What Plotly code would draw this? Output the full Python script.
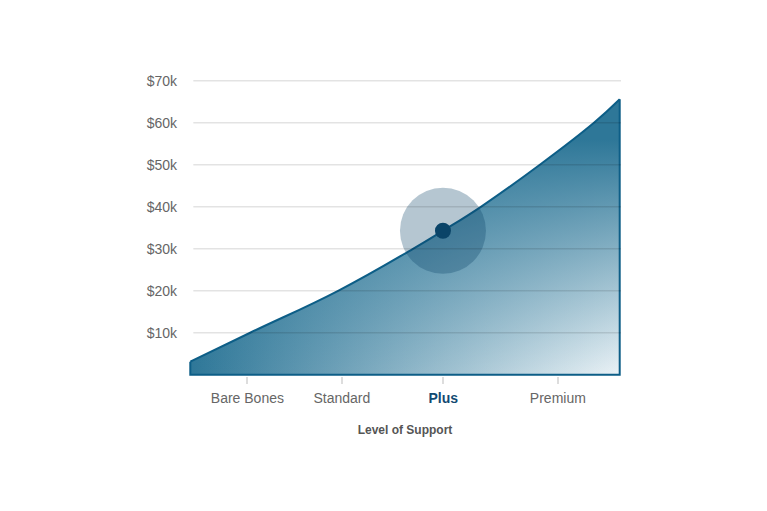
import plotly.graph_objects as go

# ---- data ----
curve_x = [0, 13.95, 34.42, 51.86, 58.84, 67.67, 81.40, 94.0, 100]
curve_y = [3.1, 10, 20, 30, 34.3, 40, 50, 60, 65.6]

tick_pos = [13.3, 35.3, 58.9, 85.6]
tick_labels = ["Bare Bones", "Standard", "Plus", "Premium"]
highlight_index = 2           # "Plus"
highlight_x = 58.84
highlight_y = 34.3

y_ticks = [10, 20, 30, 40, 50, 60, 70]
y_tick_labels = ["$10k", "$20k", "$30k", "$40k", "$50k", "$60k", "$70k"]

DARK = "#2e7798"
LIGHT = "#eaf2f6"
EDGE = "#0d5e87"
NAVY = "#0a4468"
SMOOTH = 1.2

fig = go.Figure()

# base fill: horizontal gradient
fig.add_trace(go.Scatter(
    x=curve_x, y=curve_y, mode="lines", fill="tozeroy",
    line=dict(width=0, shape="spline", smoothing=SMOOTH),
    fillgradient=dict(type="horizontal", start=0, stop=100,
                      colorscale=[[0, DARK], [1, LIGHT]]),
    hoverinfo="skip", showlegend=False))

# overlay: vertical darkening gradient
fig.add_trace(go.Scatter(
    x=curve_x, y=curve_y, mode="lines", fill="tozeroy",
    line=dict(width=0, shape="spline", smoothing=SMOOTH),
    fillgradient=dict(type="vertical", start=0, stop=56,
                      colorscale=[[0, "rgba(46,119,152,0)"],
                                  [1, "rgba(46,119,152,1)"]]),
    hoverinfo="skip", showlegend=False))

# outline: curve
fig.add_trace(go.Scatter(
    x=curve_x, y=curve_y, mode="lines",
    line=dict(width=2, color=EDGE, shape="spline", smoothing=SMOOTH),
    hoverinfo="skip", showlegend=False))

# outline: straight edges (right, bottom, left)
fig.add_trace(go.Scatter(
    x=[curve_x[-1], curve_x[-1], curve_x[0], curve_x[0]],
    y=[curve_y[-1], 0, 0, curve_y[0]], mode="lines",
    line=dict(width=2, color=EDGE),
    hoverinfo="skip", showlegend=False))

# halo
fig.add_trace(go.Scatter(
    x=[highlight_x], y=[highlight_y], mode="markers",
    marker=dict(size=86, color="rgba(11,66,102,0.3)", line=dict(width=0)),
    hoverinfo="skip", showlegend=False))

# dot
fig.add_trace(go.Scatter(
    x=[highlight_x], y=[highlight_y], mode="markers",
    marker=dict(size=16, color=NAVY, line=dict(width=0)),
    hoverinfo="skip", showlegend=False))

# grid lines drawn above the area
for v in y_ticks:
    fig.add_shape(type="line", xref="x domain", yref="y",
                  x0=0.01, x1=1, y0=v, y1=v, layer="above",
                  line=dict(color="rgba(0,0,0,0.11)", width=1.5))

ticktext = []
for i, t in enumerate(tick_labels):
    if i == highlight_index:
        ticktext.append("<span style='color:#124a72'><b>%s</b></span>" % t)
    else:
        ticktext.append(t)

fig.update_layout(
    width=767, height=511,
    margin=dict(l=181, r=154, t=72, b=143),
    paper_bgcolor="white", plot_bgcolor="white",
    font=dict(family="Liberation Sans, Arial, sans-serif", color="#666", size=14),
    xaxis=dict(
        range=[-0.3, 100.3], showgrid=False, zeroline=False, showline=False,
        tickmode="array", tickvals=tick_pos, ticktext=ticktext,
        ticks="outside", ticklen=7, tickwidth=2, tickcolor="#dddddd",
        ticklabelstandoff=2,
        tickfont=dict(size=14, color="#666"),
        title=dict(text="<b>Level of Support</b>", standoff=20,
                   font=dict(size=12, color="#555")),
        fixedrange=True,
    ),
    yaxis=dict(
        range=[-0.3, 70.2], showgrid=False,
        zeroline=False, showline=False,
        tickmode="array", tickvals=y_ticks, ticktext=y_tick_labels,
        ticks="", ticklabelstandoff=11,
        tickfont=dict(size=14, color="#666"),
        fixedrange=True,
    ),
    hovermode=False,
)

fig.write_html("out.html")
